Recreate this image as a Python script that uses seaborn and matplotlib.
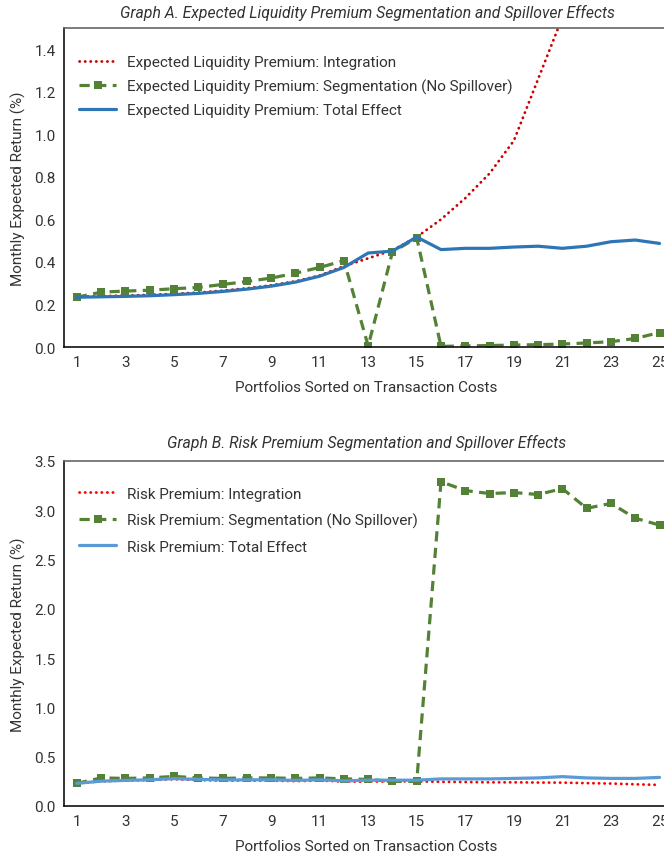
import numpy as np
import pandas as pd
import matplotlib
matplotlib.use("Agg")
import matplotlib.pyplot as plt
import seaborn as sns

# ---------------- data ----------------
portfolios = list(range(1, 26))
xtick_labels = [str(i) for i in range(1, 26, 2)]

liq_integration = [0.236, 0.239, 0.242, 0.245, 0.250, 0.256, 0.265, 0.276, 0.290, 0.309,
                   0.336, 0.380, 0.417, 0.455, 0.517, 0.600, 0.700, 0.816, 0.970, 1.260,
                   1.550, 1.900, 2.400, 3.000, 3.800]
liq_segmentation = [0.234, 0.258, 0.263, 0.267, 0.274, 0.280, 0.294, 0.308, 0.324, 0.347,
                    0.374, 0.406, 0.005, 0.447, 0.513, 0.003, 0.005, 0.007, 0.009, 0.011,
                    0.014, 0.019, 0.025, 0.040, 0.068]
liq_total = [0.234, 0.236, 0.238, 0.241, 0.246, 0.252, 0.261, 0.272, 0.286, 0.305,
             0.333, 0.374, 0.442, 0.451, 0.517, 0.458, 0.464, 0.464, 0.470, 0.474,
             0.464, 0.474, 0.495, 0.503, 0.487]

risk_integration = [0.230, 0.250, 0.258, 0.263, 0.272, 0.263, 0.258, 0.258, 0.258, 0.252,
                    0.258, 0.248, 0.247, 0.250, 0.250, 0.245, 0.243, 0.240, 0.240, 0.238,
                    0.237, 0.232, 0.228, 0.220, 0.214]
risk_segmentation = [0.230, 0.285, 0.280, 0.285, 0.300, 0.285, 0.280, 0.285, 0.285, 0.280,
                     0.285, 0.275, 0.270, 0.250, 0.250, 3.290, 3.200, 3.170, 3.180, 3.160,
                     3.220, 3.020, 3.070, 2.920, 2.850]
risk_total = [0.230, 0.252, 0.260, 0.266, 0.278, 0.270, 0.265, 0.265, 0.266, 0.260,
              0.266, 0.255, 0.262, 0.262, 0.262, 0.275, 0.275, 0.275, 0.280, 0.285,
              0.298, 0.285, 0.280, 0.280, 0.290]

title_a = "Graph A. Expected Liquidity Premium Segmentation and Spillover Effects"
title_b = "Graph B. Risk Premium Segmentation and Spillover Effects"
labels_a = ["Expected Liquidity Premium: Integration",
            "Expected Liquidity Premium: Segmentation (No Spillover)",
            "Expected Liquidity Premium: Total Effect"]
labels_b = ["Risk Premium: Integration",
            "Risk Premium: Segmentation (No Spillover)",
            "Risk Premium: Total Effect"]
xlabel = "Portfolios Sorted on Transaction Costs"
ylabel = "Monthly Expected Return (%)"

# ---------------- style ----------------
sns.set_theme(style="white")
plt.rcParams['font.family'] = ['Roboto', 'DejaVu Sans']
TXT = '#333333'
FS = 11.0

fig = plt.figure(figsize=(6.64, 8.62), dpi=100)
W = 604 / 664
ax_a = fig.add_axes([64 / 664, 1 - 348 / 862, W, (348 - 29) / 862])
ax_b = fig.add_axes([64 / 664, 1 - 807 / 862, W, (807 - 462) / 862])


def draw(ax, integ, seg, total, labels, red, blue, ymax, yticks, title, title_y,
         leg_top, spacing):
    df = pd.DataFrame({"x": portfolios, "integ": integ, "seg": seg, "total": total})
    sns.lineplot(data=df, x="x", y="integ", ax=ax, color=red, linewidth=2.0,
                 linestyle=(0, (0.1, 1.9)), dash_capstyle='round', label=labels[0])
    sns.lineplot(data=df, x="x", y="seg", ax=ax, color='#538135', linewidth=2.3,
                 linestyle=(0, (3.2, 2.0)), marker='s', markersize=6,
                 markeredgewidth=0, label=labels[1])
    sns.lineplot(data=df, x="x", y="total", ax=ax, color=blue, linewidth=2.3,
                 label=labels[2])
    ax.set_xlim(0.47, 25.35)
    ax.set_ylim(0, ymax)
    ax.set_xticks(list(range(1, 26, 2)))
    ax.set_xticklabels(xtick_labels)
    ax.set_yticks(yticks)
    ax.set_yticklabels([f"{t:.1f}" for t in yticks])
    ax.tick_params(axis='both', length=0, labelsize=FS, colors=TXT, pad=6)
    ax.set_xlabel(xlabel, fontsize=FS, color=TXT, labelpad=8)
    ax.set_ylabel(ylabel, fontsize=FS, color=TXT, labelpad=6)
    for side in ['left', 'bottom']:
        ax.spines[side].set_color('#111111')
        ax.spines[side].set_linewidth(1.2)
    ax.spines['top'].set_color('#666666')
    ax.spines['top'].set_linewidth(1.2)
    ax.spines['right'].set_visible(False)
    fig.text(367 / 664, 1 - title_y / 862, title, ha='center', va='center',
             fontsize=11.3, style='italic', color=TXT)
    leg = ax.legend(loc='upper left', frameon=False, fontsize=FS,
                    bbox_to_anchor=(0.0, leg_top), handlelength=2.4,
                    labelspacing=spacing, handletextpad=0.75, borderaxespad=0.6)
    for t in leg.get_texts():
        t.set_color(TXT)


draw(ax_a, liq_integration, liq_segmentation, liq_total, labels_a,
     '#cc0000', '#2e75b6', 1.5, [0.0, 0.2, 0.4, 0.6, 0.8, 1.0, 1.2, 1.4], title_a, 13,
     0.963, 0.62)
draw(ax_b, risk_integration, risk_segmentation, risk_total, labels_b,
     '#ff0000', '#5b9bd5', 3.5, [0.0, 0.5, 1.0, 1.5, 2.0, 2.5, 3.0, 3.5], title_b, 443,
     0.970, 0.78)

fig.savefig("out.png", dpi=100)
